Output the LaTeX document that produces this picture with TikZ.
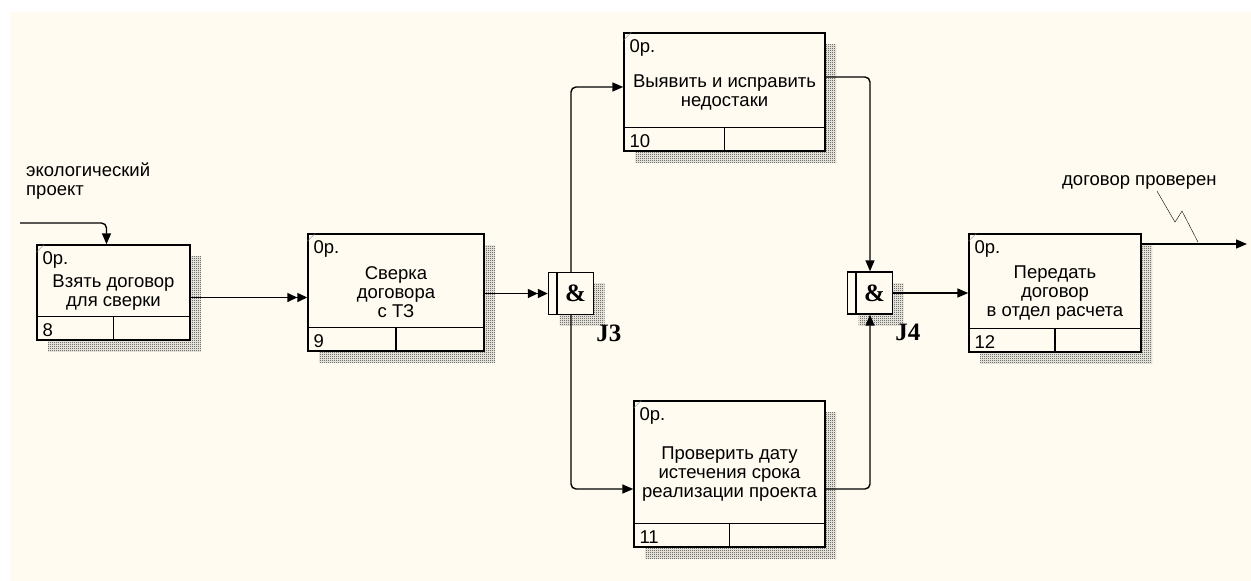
\documentclass[tikz,border=0pt]{standalone}
\usepackage{fontspec}
\setmainfont{Liberation Sans}
\newfontfamily\jfont{Liberation Serif}
\usetikzlibrary{arrows.meta,patterns.meta}
\definecolor{paper}{RGB}{255,251,240}

\pgfdeclarepattern{
  name=dither, type=uncolored,
  bottom left={\pgfpoint{0pt}{0pt}}, top right={\pgfpoint{2pt}{2pt}},
  tile size={\pgfpoint{2pt}{2pt}},
  code={\pgfpathrectangle{\pgfpointorigin}{\pgfpoint{1pt}{1pt}}
    \pgfpathrectangle{\pgfpoint{1pt}{1pt}}{\pgfpoint{1pt}{1pt}}\pgfusepath{fill}}}

\tikzset{
  uow/.style={draw, line width=1.4pt, fill=paper, align=center, inner sep=0pt,
    font=\fontsize{18.5}{19}\selectfont},
  junc/.style={draw, line width=1.4pt, fill=paper, minimum width=45pt,
    minimum height=42pt, inner sep=0pt, font=\jfont\bfseries\fontsize{25}{25}\selectfont},
  jlabel/.style={font=\jfont\bfseries\fontsize{25}{25}\selectfont, inner sep=0pt},
  small/.style={font=\fontsize{18.5}{19}\selectfont, inner sep=0pt},
  shadow/.style={pattern=dither, pattern color=black!85},
  link/.style={line width=1.4pt, rounded corners=5pt, -{Triangle[length=11pt,width=9pt]}},
  dbl/.style={line width=1.4pt, -{Triangle[length=10pt,width=9pt]Triangle[length=10pt,width=9pt]}},
}

\begin{document}
\begin{tikzpicture}[x=1pt,y=-1pt]
\useasboundingbox (0,0) rectangle (1251,581);
\fill[white] (0,0) rectangle (1251,581);
\fill[paper] (10,12) rectangle (1251,581);

% units of work
\foreach \n/\x/\y/\w/\h/\t in {
  8/113.5/292.5/153/95/{Взять договор\\для сверки},
  9/396/292.5/176/117/{Сверка\\договора\\с ТЗ},
  10/724.5/92/201/118/{Выявить и исправить\\недостаки},
  11/729.5/474/191/146/{Проверить дату\\истечения срока\\реализации проекта},
  12/1055/293/172/118/{Передать\\договор\\в отдел расчета}}
{
  \fill[shadow] (\x-\w/2+11,\y-\h/2+11) rectangle (\x+\w/2+11,\y+\h/2+11);
  \node[uow, minimum width=\w pt, minimum height=\h pt] (b\n) at (\x,\y) {\t};
  \draw[line width=1.4pt] ([yshift=24pt]b\n.south west) -- ([yshift=24pt]b\n.south east);
  \draw[line width=1.4pt] (b\n.south) -- ++(0,-24);
  \draw[gray] ([yshift=-8pt]b\n.north west) -- ([xshift=8pt]b\n.north west);
  \node[small, anchor=north west] at ([xshift=6pt,yshift=-7pt]b\n.north west) {0р.};
  \node[small, anchor=base west] at ([xshift=6pt,yshift=4pt]b\n.south west) {\n};
}

% junctions
\foreach \j/\x/\y in {3/571/293.5, 4/870/293}
{
  \fill[shadow] (\x-22.5+11,\y-21+11) rectangle (\x+22.5+11,\y+21+11);
  \node[junc] (j\j) at (\x,\y) {\hspace*{9pt}\&};
  \draw[line width=1.4pt] ([xshift=9pt]j\j.north west) -- ([xshift=9pt]j\j.south west);
  \node[jlabel, anchor=base west] at ([xshift=2pt,yshift=-26pt]j\j.south east) {J\j};
}

% arrows
\coordinate (in) at (20,223);
\coordinate (out) at (1247,244);
\node[small, anchor=north west, align=left] (lin) at (26,163) {экологический\\проект};
\node[small, anchor=west] (lout) at (1062,182) {договор проверен};

\draw[link] (in) -| ([xshift=-7pt]b8.north);
\draw[dbl] ([yshift=-5pt]b8.east) -- ([yshift=-5pt]b9.west);
\draw[dbl] (b9.east |- j3.west) -- (j3.west);
\draw[link] (j3.north) |- ([yshift=5pt]b10.west);
\draw[link] (j3.south) |- ([yshift=-15pt]b11.west);
\draw[link] ([yshift=15pt]b10.east) -| (j4.north);
\draw[link] ([yshift=-15pt]b11.east) -| (j4.south);
\draw[link] (j4.east) -- (j4.east -| b12.west);
\draw[link] (b12.east |- out) -- (out);
\draw ([xshift=95pt,yshift=-2pt]lout.south west) -- ++(18,31) -- ++(7,-11) -- ++(16,31);
\end{tikzpicture}
\end{document}
